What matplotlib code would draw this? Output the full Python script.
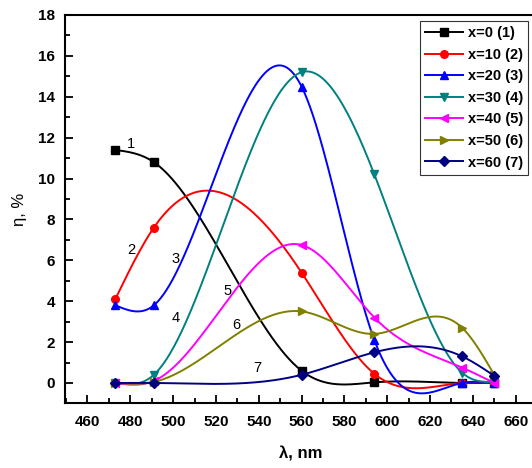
"""
Spectral dependence of efficiency eta for several compositions x.
"""

import numpy as np
import matplotlib.pyplot as plt
from matplotlib.ticker import MultipleLocator

# ── Data ───────────────────────────────────────────────────────
wavelength = [473, 491, 560, 594, 635, 650]
eta_x0 = [11.4, 10.8, 0.6, 0.03, 0.0, 0.0]
eta_x10 = [4.1, 7.6, 5.4, 0.45, 0.0, 0.0]
eta_x20 = [3.8, 3.8, 14.5, 2.1, 0.0, 0.0]
eta_x30 = [0.0, 0.4, 15.2, 10.2, 0.5, 0.05]
eta_x40 = [0.0, 0.1, 6.75, 3.2, 0.75, 0.0]
eta_x50 = [0.0, 0.05, 3.5, 2.4, 2.7, 0.4]
eta_x60 = [0.0, 0.0, 0.4, 1.5, 1.3, 0.35]
legend_labels = ['x=0 (1)', 'x=10 (2)', 'x=20 (3)', 'x=30 (4)',
                 'x=40 (5)', 'x=50 (6)', 'x=60 (7)']
curve_numbers = ['1', '2', '3', '4', '5', '6', '7']
number_pos = [(480.5, 11.7), (480.7, 6.5), (501, 6.05), (501.3, 3.2),
              (525.4, 4.5), (529.3, 2.85), (539.4, 0.72)]
# ───────────────────────────────────────────────────────────────

colors = ['black', 'red', 'blue', '#008080', 'magenta', '#808000', '#000080']
markers = ['s', 'o', '^', 'v', '<', '>', 'D']


def natural_spline(x, y, xs):
    """Natural cubic spline through (x, y), evaluated at xs."""
    x = np.asarray(x, float)
    y = np.asarray(y, float)
    n = len(x)
    h = np.diff(x)
    A = np.zeros((n, n))
    b = np.zeros(n)
    A[0, 0] = A[-1, -1] = 1
    for i in range(1, n - 1):
        A[i, i - 1] = h[i - 1]
        A[i, i] = 2 * (h[i - 1] + h[i])
        A[i, i + 1] = h[i]
        b[i] = 6 * ((y[i + 1] - y[i]) / h[i] - (y[i] - y[i - 1]) / h[i - 1])
    M = np.linalg.solve(A, b)
    idx = np.clip(np.searchsorted(x, xs) - 1, 0, n - 2)
    x0, x1 = x[idx], x[idx + 1]
    hh = x1 - x0
    t0, t1 = x1 - xs, xs - x0
    return (M[idx] * t0**3 / (6 * hh) + M[idx + 1] * t1**3 / (6 * hh)
            + (y[idx] / hh - M[idx] * hh / 6) * t0
            + (y[idx + 1] / hh - M[idx + 1] * hh / 6) * t1)


plt.rcParams['font.family'] = ['Liberation Sans', 'DejaVu Sans']

fig = plt.figure(figsize=(5.32, 4.68), dpi=100)
ax = fig.add_axes([65 / 532, 0.138, 471 / 532, 0.83])

series = [eta_x0, eta_x10, eta_x20, eta_x30, eta_x40, eta_x50, eta_x60]
xs = np.linspace(wavelength[0], wavelength[-1], 400)
handles = []
for vals, c, m, lab in zip(series, colors, markers, legend_labels):
    ax.plot(xs, natural_spline(wavelength, vals, xs), color=c, lw=1.4)
    ax.plot(wavelength, vals, ls='none', marker=m, color=c, ms=5.5)
    h, = ax.plot([], [], color=c, lw=1.4, marker=m, ms=5.5, label=lab)
    handles.append(h)

for num, (px, py) in zip(curve_numbers, number_pos):
    ax.text(px, py, num, fontsize=10.5, ha='center', va='center')

ax.set_xlim(449.5, 669.5)
ax.set_ylim(-1, 18)
ax.xaxis.set_major_locator(MultipleLocator(20))
ax.xaxis.set_minor_locator(MultipleLocator(10))
ax.yaxis.set_major_locator(MultipleLocator(2))
ax.yaxis.set_minor_locator(MultipleLocator(1))
ax.tick_params(which='both', direction='in', top=False, right=False,
               labelsize=11, width=1.3)
ax.tick_params(which='major', length=6)
ax.tick_params(which='minor', length=3.5)
ax.tick_params(axis='x', pad=8)
ax.tick_params(axis='y', pad=7)
for lbl in ax.get_xticklabels() + ax.get_yticklabels():
    lbl.set_fontweight('bold')
for s in ax.spines.values():
    s.set_linewidth(1.5)

ax.set_xlabel('λ, nm', fontsize=12, fontweight='bold', labelpad=13)
ax.set_ylabel('η, %', fontsize=12, labelpad=8)

leg = fig.legend(handles=handles, loc='upper right',
                 bbox_to_anchor=(528 / 532, 1 - 21 / 468),
                 prop={'weight': 'bold', 'size': 10.5}, frameon=True,
                 fancybox=False, edgecolor='black', handlelength=2.6,
                 handletextpad=0.3, borderpad=0.35, labelspacing=0.52,
                 borderaxespad=0)
leg.get_frame().set_linewidth(0.8)

plt.savefig('out.png', dpi=100)
